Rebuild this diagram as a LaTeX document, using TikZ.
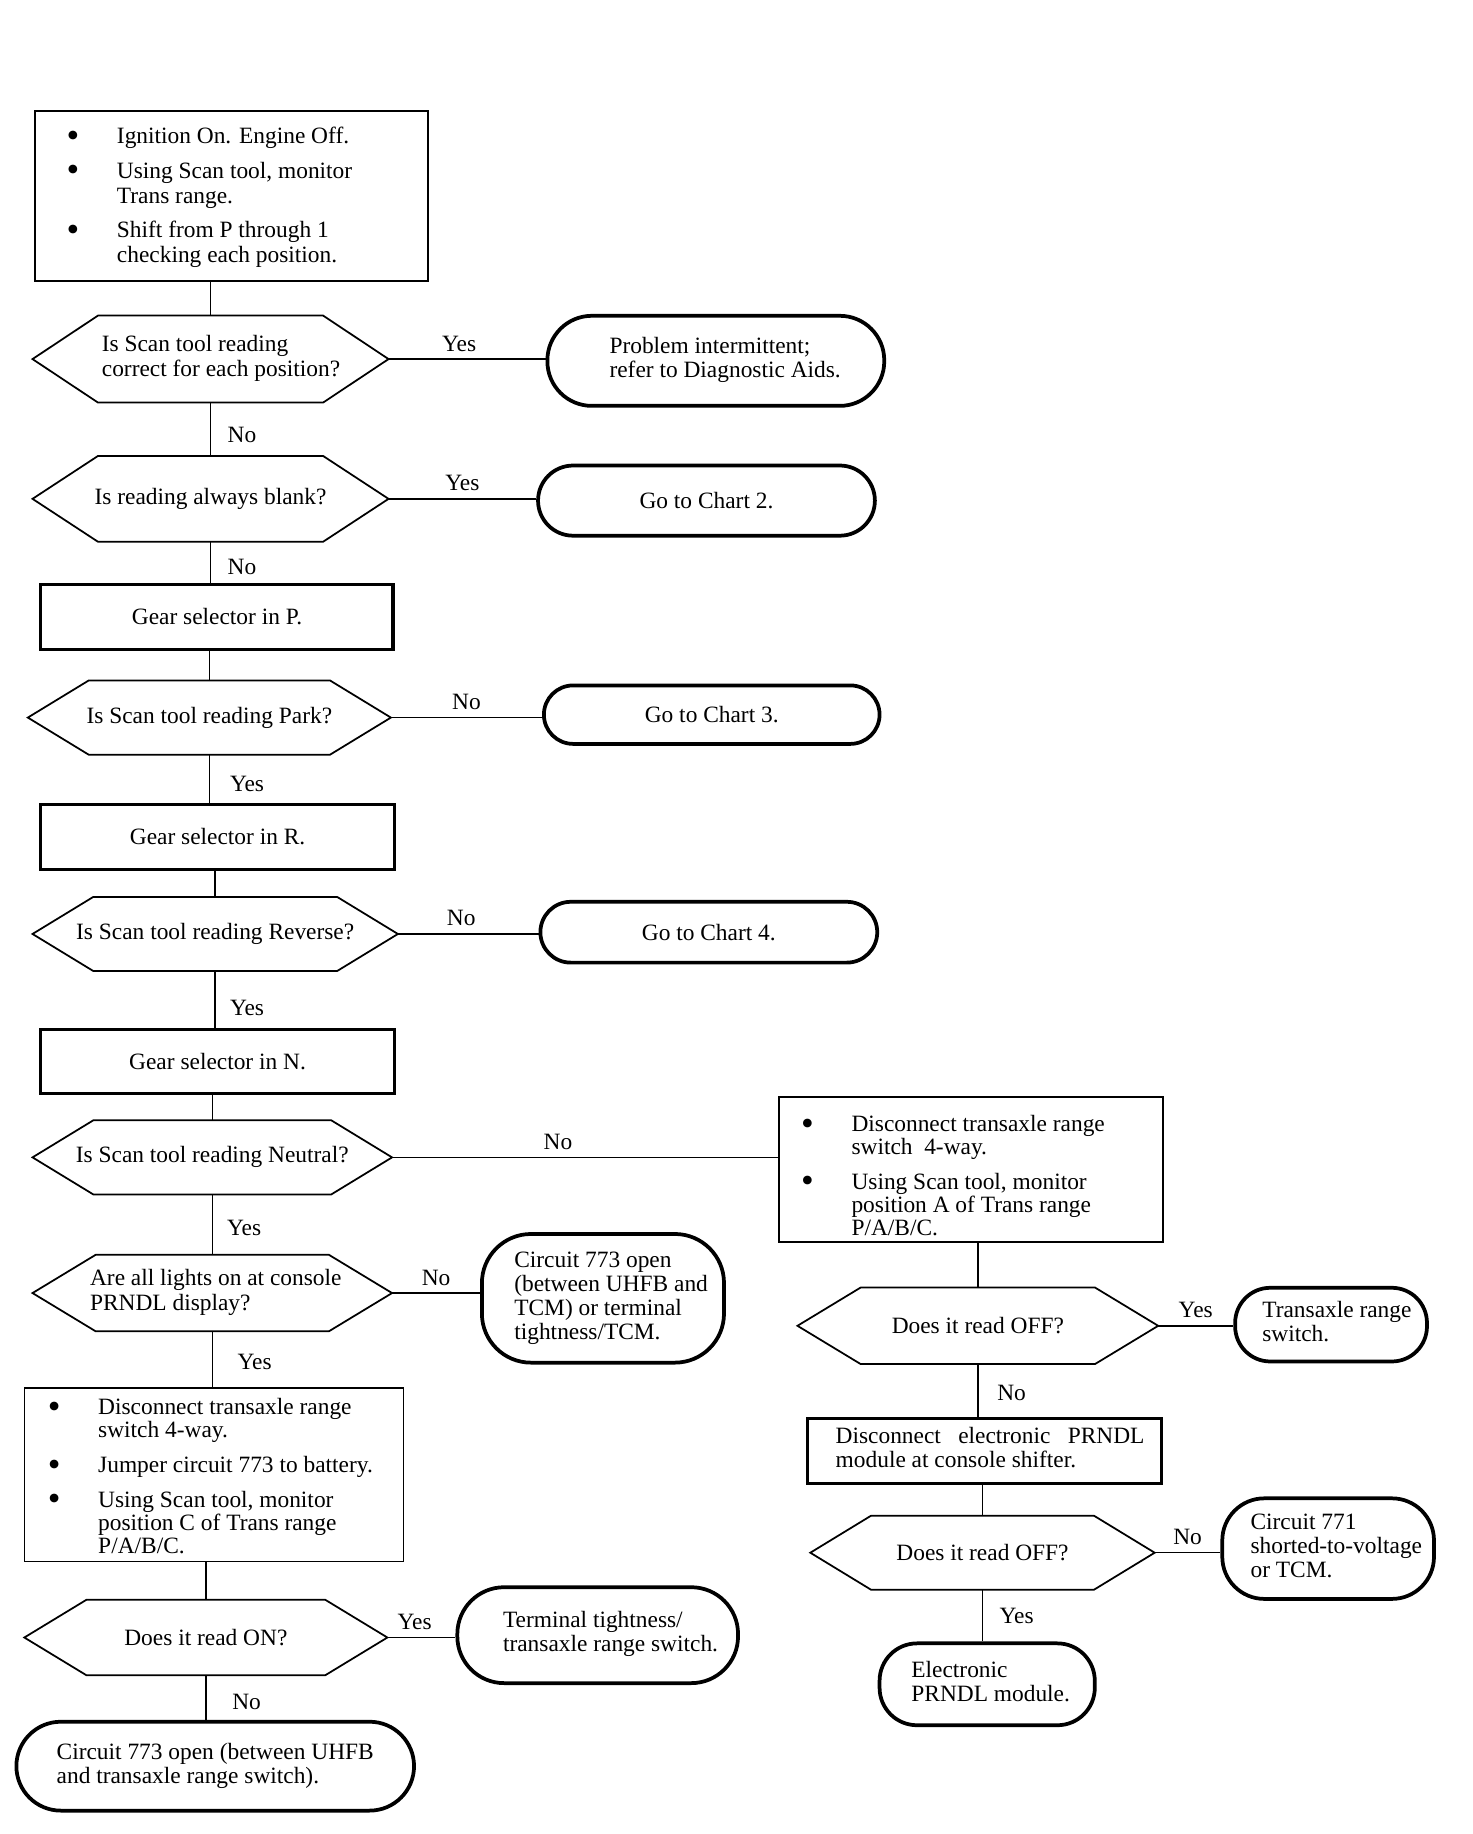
\documentclass[tikz,border=0pt]{standalone}
\usepackage{fontspec}
\setmainfont{Liberation Serif}
\usetikzlibrary{calc}
\newcommand\bul{\raisebox{-3pt}{\scalebox{1.55}{\textbullet}}}
\newcommand\sh[2]{\hspace*{#1}\begin{tabular}{@{}l@{}}\rule{0pt}{\dimexpr0.7\baselineskip+8pt\relax}#2\end{tabular}}
\newcommand\hexdraw[2]{\draw[hexline] ([xshift=#2]#1.north west) -- ([xshift=-#2]#1.north east) -- (#1.east) -- ([xshift=-#2]#1.south east) -- ([xshift=#2]#1.south west) -- (#1.west) -- cycle;}
\tikzset{
  every node/.style={font=\fontsize{20}{21.5}\selectfont},
  conn/.style={line width=1.3pt},
  lbl/.style={inner sep=2pt},
  plainbox/.style={draw, line width=1.6pt, rectangle, inner sep=0pt},
  stepbox/.style={draw, line width=2.6pt, rectangle, inner sep=0pt, align=left},
  term/.style={draw, line width=3.2pt, rectangle, inner sep=0pt, align=left, font=\fontsize{20}{20.5}\selectfont},
  hexarea/.style={rectangle, inner sep=0pt, align=left},
  hexline/.style={line width=1.5pt, line join=miter},
}
\begin{document}
\begin{tikzpicture}[x=1pt,y=-1pt]
\fill[white] (0,0) rectangle (1259,1568);
\useasboundingbox (0,0) rectangle (1259,1568);

% ---------- left column ----------
\node[plainbox, minimum width=336pt, minimum height=145pt] (top) at (198,167.5) {%
\begin{tabular}{@{}p{43pt}@{}p{239pt}@{}}
\rule{0pt}{19pt}\bul & Ignition On. Engine Off.\\[8pt]
\bul & Using Scan tool, monitor\\
     & Trans range.\\[8pt]
\bul & Shift from P through 1\\
     & checking each position.
\end{tabular}};

\node[hexarea, minimum width=304pt, minimum height=74pt] (q1) at (180,307) {\sh{18pt}{Is Scan tool reading\\correct for each position?}};
\hexdraw{q1}{56}
\node[term, minimum width=288pt, minimum height=77pt, rounded corners=38pt] (t1) at (612,308.5) {\sh{16pt}{Problem intermittent;\\refer to Diagnostic Aids.}};

\node[hexarea, minimum width=304pt, minimum height=73pt] (q2) at (180,426.5) {Is reading always blank?};
\hexdraw{q2}{56}
\node[term, minimum width=288pt, minimum height=60pt, rounded corners=30pt] (t2) at (604,428) {Go to Chart 2.};

\node[stepbox, minimum width=301pt, minimum height=55pt] (bP) at (185.5,527.5) {Gear selector in P.};

\node[hexarea, minimum width=310pt, minimum height=63pt] (q3) at (179,613.5) {Is Scan tool reading Park?};
\hexdraw{q3}{52}
\node[term, minimum width=287pt, minimum height=50pt, rounded corners=25pt] (t3) at (608.5,611) {Go to Chart 3.};

\node[stepbox, minimum width=302pt, minimum height=55pt] (bR) at (186,715.5) {Gear selector in R.};

\node[hexarea, minimum width=312pt, minimum height=63pt] (q4) at (184,798.5) {Is Scan tool reading Reverse?};
\hexdraw{q4}{52}
\node[term, minimum width=288pt, minimum height=52pt, rounded corners=26pt] (t4) at (606,797) {Go to Chart 4.};

\node[stepbox, minimum width=302pt, minimum height=55pt] (bN) at (186,907.5) {Gear selector in N.};

\node[hexarea, minimum width=307pt, minimum height=63pt] (q5) at (181.5,989.5) {Is Scan tool reading Neutral?};
\hexdraw{q5}{52}

\node[hexarea, minimum width=307pt, minimum height=65pt] (q6) at (181.5,1105.5) {\sh{6pt}{Are all lights on at console\\PRNDL display?}};
\hexdraw{q6}{54}
\node[term, minimum width=207pt, minimum height=110pt, rounded corners=42pt] (t6) at (515.5,1110) {\sh{14pt}{Circuit 773 open\\(between UHFB and\\TCM) or terminal\\tightness/TCM.}};

\node[plainbox, minimum width=324pt, minimum height=148pt] (b2) at (183,1261) {\fontsize{20}{19.5}\selectfont%
\begin{tabular}{@{}p{43pt}@{}p{241pt}@{}}
\rule{0pt}{21.6pt}\bul & Disconnect transaxle range\\
     & switch 4-way.\\[10pt]
\bul & Jumper circuit 773 to battery.\\[10pt]
\bul & Using Scan tool, monitor\\
     & position C of Trans range\\
     & P/A/B/C.
\end{tabular}};

\node[hexarea, minimum width=310pt, minimum height=64pt] (q7) at (176,1400) {Does it read ON?};
\hexdraw{q7}{53}
\node[term, minimum width=240pt, minimum height=82pt, rounded corners=40pt] (t7) at (511,1398) {\sh{22pt}{Terminal tightness/\\transaxle range switch.}};

\node[term, minimum width=340pt, minimum height=76pt, rounded corners=38pt] (t8) at (184,1510) {Circuit 773 open (between UHFB\\and transaxle range switch).};

% ---------- right column ----------
\node[plainbox, minimum width=328pt, minimum height=124pt] (rb1) at (830,1000) {\fontsize{20}{19.5}\selectfont%
\begin{tabular}{@{}p{43pt}@{}p{247pt}@{}}
\rule{0pt}{29.6pt}\bul & Disconnect transaxle range\\
     & switch\ \ 4-way.\\[10pt]
\bul & Using Scan tool, monitor\\
     & position A of Trans range\\
     & P/A/B/C.
\end{tabular}};

\node[hexarea, minimum width=308pt, minimum height=65pt] (q8) at (836,1133.5) {Does it read OFF?};
\hexdraw{q8}{54}
\node[term, minimum width=164pt, minimum height=63pt, rounded corners=30pt] (t9) at (1138,1132.5) {\sh{10pt}{Transaxle range\\switch.}};

\node[stepbox, minimum width=303pt, minimum height=55pt, font=\fontsize{20}{19.5}\selectfont] (b3) at (841.5,1240.5) {\sh{10pt}{\makebox[264pt][s]{Disconnect electronic PRNDL}\\module at console shifter.}};

\node[hexarea, minimum width=294pt, minimum height=63pt] (q9) at (840,1327.5) {Does it read OFF?};
\hexdraw{q9}{52}
\node[term, minimum width=181pt, minimum height=86pt, rounded corners=36pt] (t10) at (1135.5,1324) {\sh{14pt}{Circuit 771\\shorted-to-voltage\\or TCM.}};

\node[term, minimum width=184pt, minimum height=70pt, rounded corners=32pt] (t11) at (844,1440) {\sh{6pt}{Electronic\\PRNDL module.}};

% ---------- connectors ----------
\draw[conn] (q1.north |- top.south) -- (q1.north);
\draw[conn] (q1.east) -- node[lbl, above=4pt, pos=0.45] (l1) {Yes} (q1.east -| t1.west);
\draw[conn] (q1.south) -- node[lbl, right=12pt, pos=0.6] (l2) {No} (q2.north);
\draw[conn] (q2.east) -- node[lbl, above=4pt] (l3) {Yes} (q2.east -| t2.west);
\draw[conn] (q2.south) -- node[lbl, right=12pt, pos=0.6] (l4) {No} (q2.south |- bP.north);
\draw[conn] (q3.north |- bP.south) -- (q3.north);
\draw[conn] (q3.east) -- node[lbl, above=4pt] (l5) {No} (q3.east -| t3.west);
\draw[conn] (q3.south) -- node[lbl, right=15pt, pos=0.6] (l6) {Yes} (q3.south |- bR.north);
\draw[conn] (q4.north |- bR.south) -- (q4.north);
\draw[conn] (q4.east) -- node[lbl, above=4pt, pos=0.45] (l7) {No} (q4.east -| t4.west);
\draw[conn] (q4.south) -- node[lbl, right=10pt, pos=0.65] (l8) {Yes} (q4.south |- bN.north);
\draw[conn] (q5.north |- bN.south) -- (q5.north);
\draw[conn] (q5.east) -- node[lbl, above=4pt, pos=0.43] (l9) {No} (q5.east -| rb1.west);
\draw[conn] (q5.south) -- node[lbl, right=10pt, pos=0.55] (l10) {Yes} (q6.north);
\draw[conn] (q6.east) -- node[lbl, above=4pt] (l11) {No} (q6.east -| t6.west);
\draw[conn] (q6.south) -- node[lbl, right=19pt, pos=0.55] (l12) {Yes} (q6.south |- b2.north);
\draw[conn] (q7.north |- b2.south) -- (q7.north);
\draw[conn] (q7.east) -- node[lbl, above=4pt, pos=0.4] (l13) {Yes} (q7.east -| t7.west);
\draw[conn] (q7.south) -- node[lbl, right=20pt, pos=0.6] (l14) {No} (q7.south |- t8.north);
\draw[conn] (q8.north |- rb1.south) -- (q8.north);
\draw[conn] (q8.east) -- node[lbl, above=4pt] (l15) {Yes} (q8.east -| t9.west);
\draw[conn] (q8.south) -- node[lbl, right=14pt, pos=0.55] (l16) {No} (q8.south |- b3.north);
\draw[conn] (q9.north |- b3.south) -- (q9.north);
\draw[conn] (q9.east) -- node[lbl, above=4pt] (l17) {No} (q9.east -| t10.west);
\draw[conn] (q9.south) -- node[lbl, right=12pt] (l18) {Yes} (q9.south |- t11.north);
\end{tikzpicture}
\end{document}
